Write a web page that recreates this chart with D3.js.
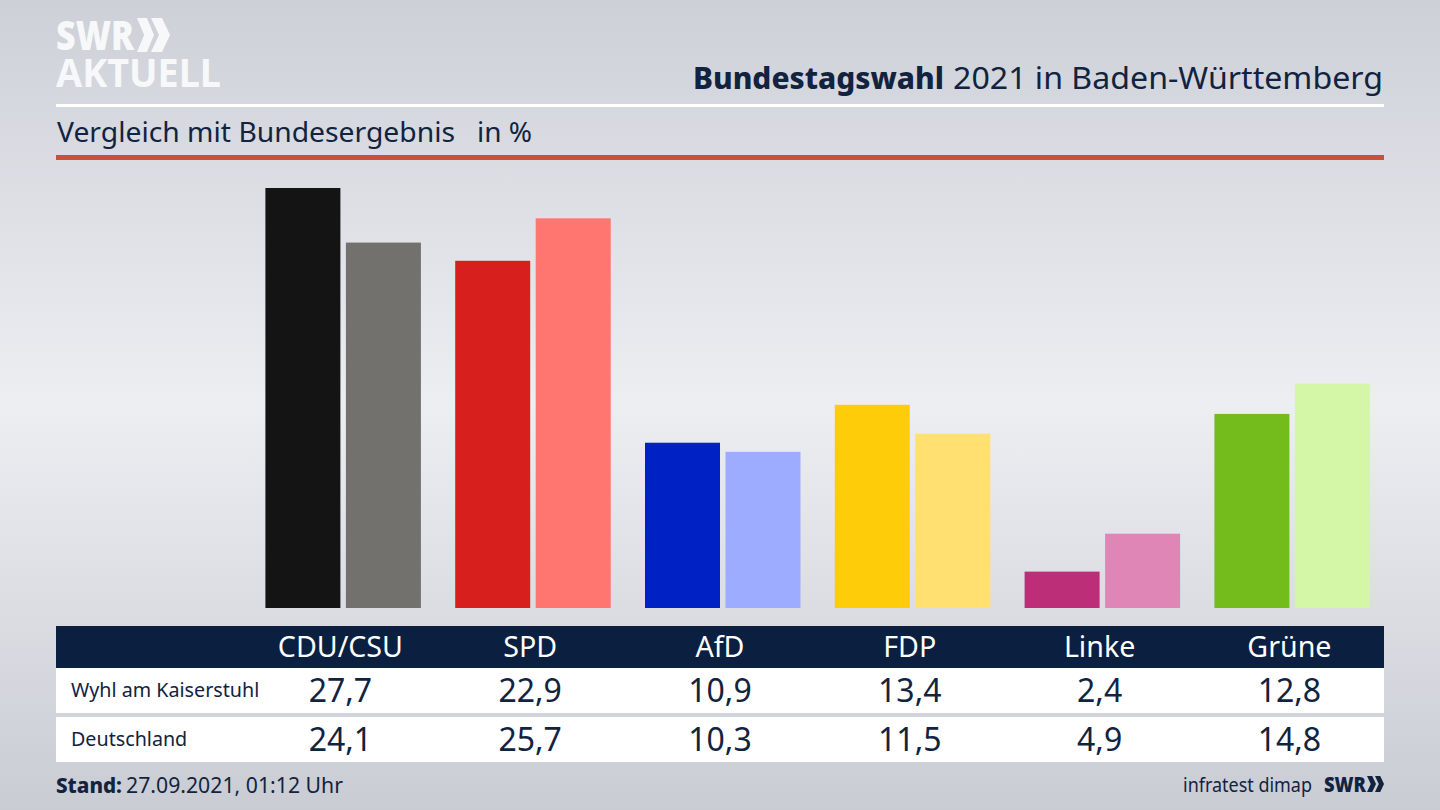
<!DOCTYPE html>
<html><head><meta charset="utf-8">
<script src="https://cdn.jsdelivr.net/npm/d3@7"></script>
<style>html,body{margin:0;padding:0;overflow:hidden;background:#d5d8de}svg{display:block}text{font-family:"Noto Sans",sans-serif}</style>
</head><body><svg id="c" width="1440" height="810"></svg>
<script>
const categories=["CDU/CSU","SPD","AfD","FDP","Linke","Grüne"];
const wyhl=[27.7,22.9,10.9,13.4,2.4,12.8];
const deutschland=[24.1,25.7,10.3,11.5,4.9,14.8];
const colorsA=["#141414","#d7201e","#0021c4","#ffcc0a","#bc2f78","#74bc1c"];
const colorsB=["#72716e","#ff7570","#9dacff","#ffe070","#e086b6","#d3f7a6"];
const rowLabels=["Wyhl am Kaiserstuhl","Deutschland"];
const navy="#0b2040",ink="#12233f";
const svg=d3.select("#c");
const defs=svg.append("defs");
const g=defs.append("linearGradient").attr("id","bg").attr("x1",0).attr("x2",0).attr("y1",0).attr("y2",1);
[[0,"#cdd0d7"],[0.5,"#eceef2"],[1,"#c9ccd3"]].forEach(s=>g.append("stop").attr("offset",s[0]).attr("stop-color",s[1]));
svg.append("rect").attr("width",1440).attr("height",810).attr("fill","url(#bg)");
const fit=(sel,w)=>sel.attr("textLength",w).attr("lengthAdjust","spacingAndGlyphs");

// logo
const chev=(x,y,h,w,col,p)=>p.append("path").attr("d",`M${x} ${y}h${w*0.58}l${w*0.42} ${h/2}l${-w*0.42} ${h/2}h${-w*0.58}l${w*0.42} ${-h/2}z`).attr("fill",col);
fit(svg.append("text").attr("x",56).attr("y",50).attr("font-size",41).attr("font-weight",900).attr("fill","#f7f8f9"),78).text("SWR");
chev(137,18,34,17,"#f7f8f9",svg);chev(151,18,34,19,"#f7f8f9",svg);
fit(svg.append("text").attr("x",56).attr("y",87).attr("font-size",40).attr("font-weight",700).attr("fill","#f7f8f9"),165).text("AKTUELL");

// header
fit(svg.append("text").attr("x",693).attr("y",89).attr("font-size",31).attr("font-weight",800).attr("fill",ink),251).text("Bundestagswahl");
fit(svg.append("text").attr("x",953).attr("y",89).attr("font-size",31).attr("fill",ink),430).text("2021 in Baden-Württemberg");
svg.append("rect").attr("x",56).attr("y",104).attr("width",1328).attr("height",3).attr("fill","#fff");
fit(svg.append("text").attr("x",57).attr("y",142).attr("font-size",28).attr("fill",ink),398).text("Vergleich mit Bundesergebnis");
fit(svg.append("text").attr("x",477).attr("y",142).attr("font-size",28).attr("fill",ink),55).text("in %");
svg.append("rect").attr("x",56).attr("y",155).attr("width",1328).attr("height",5).attr("fill","#c9503c");

// scales
const x=d3.scaleBand().domain(categories).range([245.5,245.5+189.8*6]);
const y=d3.scaleLinear().domain([0,27.7]).range([608,188]);
const bw=75,gap=5.5;
const cx=d=>x(d)+x.bandwidth()/2;
svg.append("g").selectAll("rect").data(categories).join("rect")
 .attr("x",d=>cx(d)-bw).attr("width",bw)
 .attr("y",(d,i)=>y(wyhl[i])).attr("height",(d,i)=>y(0)-y(wyhl[i])).attr("fill",(d,i)=>colorsA[i]);
svg.append("g").selectAll("rect").data(categories).join("rect")
 .attr("x",d=>cx(d)+gap).attr("width",bw)
 .attr("y",(d,i)=>y(deutschland[i])).attr("height",(d,i)=>y(0)-y(deutschland[i])).attr("fill",(d,i)=>colorsB[i]);

// table
svg.append("rect").attr("x",56).attr("y",626).attr("width",1328).attr("height",42).attr("fill",navy);
svg.append("rect").attr("x",56).attr("y",668).attr("width",1328).attr("height",45).attr("fill","#fff");
svg.append("rect").attr("x",56).attr("y",717).attr("width",1328).attr("height",45).attr("fill","#fff");
svg.append("g").selectAll("text").data(categories).join("text")
 .attr("x",d=>cx(d)).attr("y",657).attr("text-anchor","middle").attr("font-size",28.6).attr("fill","#fff").text(d=>d);
const fmt=v=>String(v.toFixed(1)).replace(".",",");
[[wyhl,702],[deutschland,751]].forEach(([vals,yy],r)=>{
 svg.append("text").attr("x",71).attr("y",r?746:697).attr("font-size",19.7).attr("fill",ink).text(rowLabels[r]);
 svg.append("g").selectAll("text").data(categories).join("text")
  .attr("x",d=>cx(d)).attr("y",yy).attr("text-anchor","middle").attr("font-size",32).attr("fill",ink).text((d,i)=>fmt(vals[i]));
});

// footer
fit(svg.append("text").attr("x",56).attr("y",793).attr("font-size",22).attr("font-weight",800).attr("fill",ink),66).text("Stand:");
fit(svg.append("text").attr("x",126).attr("y",793).attr("font-size",22).attr("fill",ink),217).text("27.09.2021, 01:12 Uhr");
fit(svg.append("text").attr("x",1183).attr("y",792).attr("font-size",20).attr("fill",ink),129).text("infratest dimap");
fit(svg.append("text").attr("x",1324).attr("y",792).attr("font-size",21).attr("font-weight",900).attr("fill",ink),42).text("SWR");
chev(1367,776,16,9,ink,svg);chev(1375,776,16,9,ink,svg);
</script></body></html>
